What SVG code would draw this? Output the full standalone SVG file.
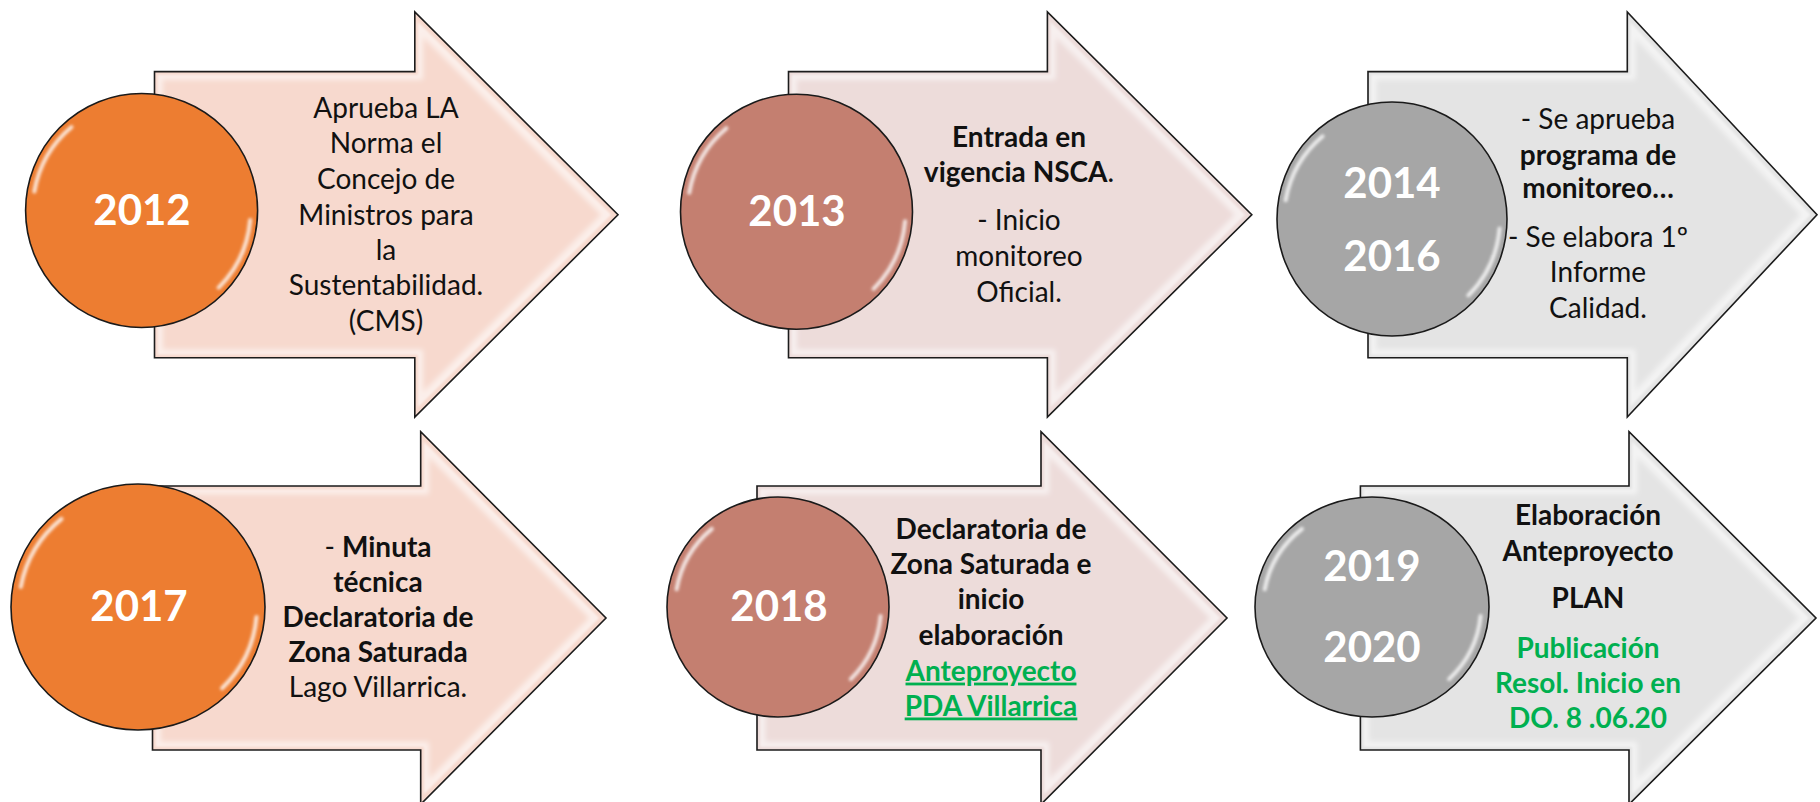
<svg xmlns="http://www.w3.org/2000/svg" width="1820" height="802" viewBox="0 0 1820 802">
<style>
  .arrow{stroke:#1a1a1a;stroke-width:1.6;stroke-linejoin:miter;filter:url(#bevel)}
  .c-or{fill:#ED7D31}
  .c-ro{fill:#C47F70}
  .c-gr{fill:#A6A6A6}
  .a-or{fill:#F7D9CE}
  .a-ro{fill:#EDDCDA}
  .a-gr{fill:#E4E4E4}
  .disc{stroke:#1a1a1a;stroke-width:1.6}
  .hl{fill:none;stroke:#ffffff;stroke-width:4;stroke-linecap:round;stroke-opacity:0.8;filter:url(#soft)}
  .yr{font-family:Lato,"Open Sans",sans-serif;font-weight:700;font-size:42px;fill:#ffffff;text-anchor:middle}
  .tx{font-family:Lato,"Open Sans",sans-serif;font-size:28px;fill:#111111;text-anchor:middle}
  .b{font-weight:700}
  .g{fill:#00B050;font-weight:700}
  .u{text-decoration:underline}
</style>
<defs>
  <filter id="bevel" x="-5%" y="-5%" width="110%" height="110%">
    <feMorphology in="SourceAlpha" operator="erode" radius="4" result="e1"/>
    <feMorphology in="SourceAlpha" operator="erode" radius="9" result="e2"/>
    <feGaussianBlur in="e2" stdDeviation="2.5" result="b2"/>
    <feComposite in="e1" in2="b2" operator="out" result="rim"/>
    <feGaussianBlur in="rim" stdDeviation="1.2" result="rimb"/>
    <feFlood flood-color="#ffffff" flood-opacity="0.55"/>
    <feComposite in2="rimb" operator="in" result="glow"/>
    <feMerge><feMergeNode in="SourceGraphic"/><feMergeNode in="glow"/></feMerge>
  </filter>
  <filter id="soft" x="-20%" y="-20%" width="140%" height="140%">
    <feGaussianBlur stdDeviation="1.6"/>
  </filter>
</defs>

<g id="connectors"></g>

<g id="node-2012">
  <polygon class="arrow a-or" points="154.5,71.6 414.8,71.6 414.8,12 618,214.7 414.8,417 414.8,357.8 154.5,357.8"/>
  <ellipse class="disc c-or" cx="141.6" cy="210.5" rx="116" ry="117"/>
  <path class="hl" d="M34.3,191.6 A109,109 0 0 1 71.5,127"/>
  <path class="hl" d="M250.2,220 A109,109 0 0 1 218.7,287.6"/>
  <text class="yr" x="142" y="224.5">2012</text>
  <text class="tx" x="386" y="117.6">Aprueba LA</text>
  <text class="tx" x="386" y="153">Norma el</text>
  <text class="tx" x="386" y="189">Concejo de</text>
  <text class="tx" x="386" y="224.5">Ministros para</text>
  <text class="tx" x="386" y="259.5">la</text>
  <text class="tx" x="386" y="295">Sustentabilidad.</text>
  <text class="tx" x="386" y="331">(CMS)</text>
</g>

<g id="node-2013">
  <polygon class="arrow a-ro" points="788.5,71.6 1047.4,71.6 1047.4,12 1251.8,214.7 1047.4,417 1047.4,357.8 788.5,357.8"/>
  <ellipse class="disc c-ro" cx="796.5" cy="211.7" rx="116" ry="117.5"/>
  <path class="hl" d="M689.2,192.8 A109,109 0 0 1 726.4,128.2"/>
  <path class="hl" d="M905.1,221.2 A109,109 0 0 1 873.6,288.8"/>
  <text class="yr" x="797" y="225.5">2013</text>
  <text class="tx b" x="1019" y="147">Entrada en</text>
  <text class="tx" x="1019" y="181.5"><tspan class="b">vigencia NSCA</tspan>.</text>
  <text class="tx" x="1019" y="230">- Inicio</text>
  <text class="tx" x="1019" y="266.4">monitoreo</text>
  <text class="tx" x="1019" y="301.5">Oficial.</text>
</g>

<g id="node-2014-2016">
  <polygon class="arrow a-gr" points="1368,71.6 1627.3,71.6 1627.3,12 1817,214.7 1627.3,417 1627.3,357.8 1368,357.8"/>
  <ellipse class="disc c-gr" cx="1392" cy="219" rx="115" ry="117"/>
  <path class="hl" d="M1285.6,200.3 A108,108 0 0 1 1322.6,136.3"/>
  <path class="hl" d="M1499.6,228.4 A108,108 0 0 1 1468.4,295.4"/>
  <text class="yr" x="1392" y="198">2014</text>
  <text class="yr" x="1392" y="270.5">2016</text>
  <text class="tx" x="1598" y="129.4">- Se aprueba</text>
  <text class="tx b" x="1598" y="164.6">programa de</text>
  <text class="tx b" x="1598" y="198">monitoreo…</text>
  <text class="tx" x="1598" y="247">- Se elabora 1º</text>
  <text class="tx" x="1598" y="282">Informe</text>
  <text class="tx" x="1598" y="317.5">Calidad.</text>
</g>

<g id="node-2017">
  <polygon class="arrow a-or" points="152.5,486 420.7,486 420.7,431.7 606,618 420.7,804.3 420.7,750 152.5,750"/>
  <ellipse class="disc c-or" cx="138" cy="607" rx="127" ry="123"/>
  <path class="hl" d="M20.8,587 A119,115 0 0 1 61.5,518.9"/>
  <path class="hl" d="M256.5,617 A119,115 0 0 1 222.1,688.3"/>
  <text class="yr" x="139" y="621">2017</text>
  <text class="tx" x="378" y="556.7">- <tspan class="b">Minuta</tspan></text>
  <text class="tx b" x="378" y="591.5">técnica</text>
  <text class="tx b" x="378" y="626.7">Declaratoria de</text>
  <text class="tx b" x="378" y="662">Zona Saturada</text>
  <text class="tx" x="378" y="697.4">Lago Villarrica.</text>
</g>

<g id="node-2018">
  <polygon class="arrow a-ro" points="757,486 1041,486 1041,431.7 1227,618 1041,804.3 1041,750 757,750"/>
  <ellipse class="disc c-ro" cx="778" cy="607" rx="111" ry="110"/>
  <path class="hl" d="M676.6,589.3 A103,102 0 0 1 711.8,528.9"/>
  <path class="hl" d="M880.6,615.9 A103,102 0 0 1 850.8,679.1"/>
  <text class="yr" x="779" y="621">2018</text>
  <text class="tx b" x="991" y="539">Declaratoria de</text>
  <text class="tx b" x="991" y="574">Zona Saturada e</text>
  <text class="tx b" x="991" y="609">inicio</text>
  <text class="tx b" x="991" y="645">elaboración</text>
  <text class="tx g u" x="991" y="680.6">Anteproyecto</text>
  <text class="tx g u" x="991" y="715.5">PDA Villarrica</text>
</g>

<g id="node-2019-2020">
  <polygon class="arrow a-gr" points="1360.4,486 1629,486 1629,431.7 1816,618 1629,804.3 1629,750 1360.4,750"/>
  <ellipse class="disc c-gr" cx="1372" cy="607" rx="117" ry="110"/>
  <path class="hl" d="M1264.7,589.3 A109,102 0 0 1 1301.9,528.9"/>
  <path class="hl" d="M1480.6,615.9 A109,102 0 0 1 1449.1,679.1"/>
  <text class="yr" x="1372" y="581">2019</text>
  <text class="yr" x="1372" y="662">2020</text>
  <text class="tx b" x="1588" y="524.5">Elaboración</text>
  <text class="tx b" x="1588" y="560.7">Anteproyecto</text>
  <text class="tx b" x="1588" y="608">PLAN</text>
  <text class="tx g" x="1588" y="658">Publicación</text>
  <text class="tx g" x="1588" y="693">Resol. Inicio en</text>
  <text class="tx g" x="1588" y="728">DO. 8 .06.20</text>
</g>
</svg>
